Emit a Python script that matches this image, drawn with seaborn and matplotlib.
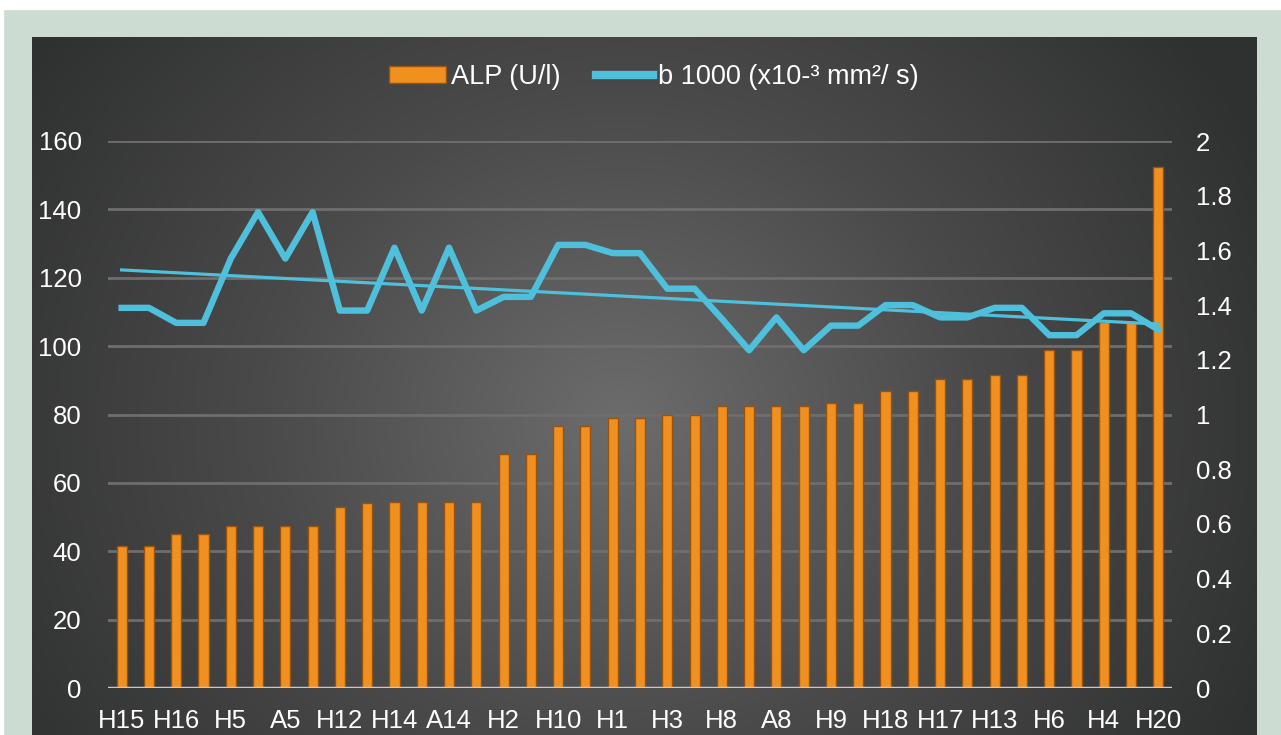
import numpy as np
import pandas as pd
import matplotlib.pyplot as plt
import seaborn as sns
from matplotlib.colors import LinearSegmentedColormap
from matplotlib.patches import Rectangle, Patch
from matplotlib.lines import Line2D

# data
alp = [41.5, 41.5, 45, 45, 47.5, 47.5, 47.5, 47.5, 53, 54, 54.5, 54.5, 54.5, 54.5,
       68.5, 68.5, 76.5, 76.5, 79, 79, 80, 80, 82.5, 82.5, 82.5, 82.5, 83.5, 83.5,
       87, 87, 90.5, 90.5, 91.5, 91.5, 99, 99, 107, 107, 152.5]
b1000 = [1.39, 1.39, 1.335, 1.335, 1.57, 1.74, 1.57, 1.74, 1.38, 1.38, 1.61, 1.38, 1.61,
         1.38, 1.43, 1.43, 1.62, 1.62, 1.59, 1.59, 1.46, 1.46, 1.35, 1.235, 1.355, 1.235,
         1.325, 1.325, 1.40, 1.40, 1.355, 1.355, 1.39, 1.39, 1.29, 1.29, 1.37, 1.37, 1.31]
tick_labels = ['H15', 'H16', 'H5', 'A5', 'H12', 'H14', 'A14', 'H2', 'H10', 'H1',
               'H3', 'H8', 'A8', 'H9', 'H18', 'H17', 'H13', 'H6', 'H4', 'H20']

df = pd.DataFrame({'pos': np.arange(len(alp)), 'alp': alp, 'b1000': b1000})

plt.rcParams['font.family'] = ['Liberation Sans', 'DejaVu Sans']
W, H = 1281, 735
fig = plt.figure(figsize=(W / 100, H / 100), dpi=100, facecolor='#ccdcd2')

# white strips at top and left
fig.patches.append(Rectangle((0, 1 - 9 / H), 1, 9 / H, transform=fig.transFigure,
                             color='white', zorder=0))
fig.patches.append(Rectangle((0, 0), 3 / W, 1, transform=fig.transFigure,
                             color='white', zorder=0))

# dark panel with radial gradient
bg = fig.add_axes([32 / W, 0, (1257 - 32) / W, (735 - 37) / H])
yy, xx = np.mgrid[0:1:300j, 0:1:500j]
r = np.sqrt(((xx - 0.48) * 1.2) ** 2 + ((yy - 0.45) * 0.75) ** 2)
r = np.clip(r / 0.7, 0, 1)
cmap = LinearSegmentedColormap.from_list('bg', ['#6c6c6c', '#4a4a4a', '#2f3030'])
bg.imshow(r, cmap=cmap, extent=[0, 1, 0, 1], aspect='auto', origin='lower')
bg.set_axis_off()

ax = fig.add_axes([108 / W, (H - 688) / H, (1172 - 108) / W, (688 - 141) / H])
ax.set_facecolor('none')

sns.barplot(data=df, x='pos', y='alp', native_scale=True, width=0.37, color='#f0901f',
            edgecolor='#9a5210', linewidth=1, saturation=1, ax=ax, zorder=3)
ax.set_xlim(-0.5, len(alp) - 0.5)
ax.set_ylim(0, 160)
ax.set_yticks(range(0, 161, 20))
ax.set_xticks(range(0, len(alp), 2))
ax.set_xticklabels(tick_labels)
ax.grid(axis='y', color='#6e6e6e', lw=2, zorder=0)
ax.grid(axis='x', visible=False)
ax.set_axisbelow(True)
for s in ax.spines.values():
    s.set_visible(False)
ax.axhline(0, color='#c8c8c8', lw=2.5, zorder=4)
ax.tick_params(axis='y', length=0, pad=19, labelsize=18.5, labelcolor='white')
ax.tick_params(axis='x', length=0, pad=15, labelsize=18.5, labelcolor='white')
ax.set_xlabel('')
ax.set_ylabel('')

ax2 = ax.twinx()
sns.lineplot(data=df, x='pos', y='b1000', color='#4fc0db', lw=4.6, ax=ax2, zorder=5)
sns.regplot(data=df, x='pos', y='b1000', scatter=False, ci=None, color='#4fc0db',
            line_kws={'lw': 2.3}, ax=ax2, truncate=True)
ax2.set_ylim(0, 2)
ax2.set_yticks(np.arange(0, 2.01, 0.2))
ax2.set_yticklabels([f'{v:g}' for v in np.round(np.arange(0, 2.01, 0.2), 1)])
ax2.tick_params(axis='y', length=0, pad=17, labelsize=18.5, labelcolor='white')
ax2.set_xlim(-0.5, len(alp) - 0.5)
ax2.set_ylabel('')
ax2.set_xlabel('')
for s in ax2.spines.values():
    s.set_visible(False)

handles = [Patch(facecolor='#f0901f', edgecolor='#9a5210', label='ALP (U/l)'),
           Line2D([], [], color='#4fc0db', lw=6, label='b 1000 (x10-³ mm²/ s)')]
leg = fig.legend(handles=handles, loc='center', bbox_to_anchor=(654 / W, 1 - 77 / H), ncol=2,
                 frameon=False, fontsize=19.5, handlelength=2.1, handleheight=0.55,
                 handletextpad=0.2, columnspacing=1.3)
for t in leg.get_texts():
    t.set_color('white')

fig.savefig('out.png', dpi=100, facecolor=fig.get_facecolor())
